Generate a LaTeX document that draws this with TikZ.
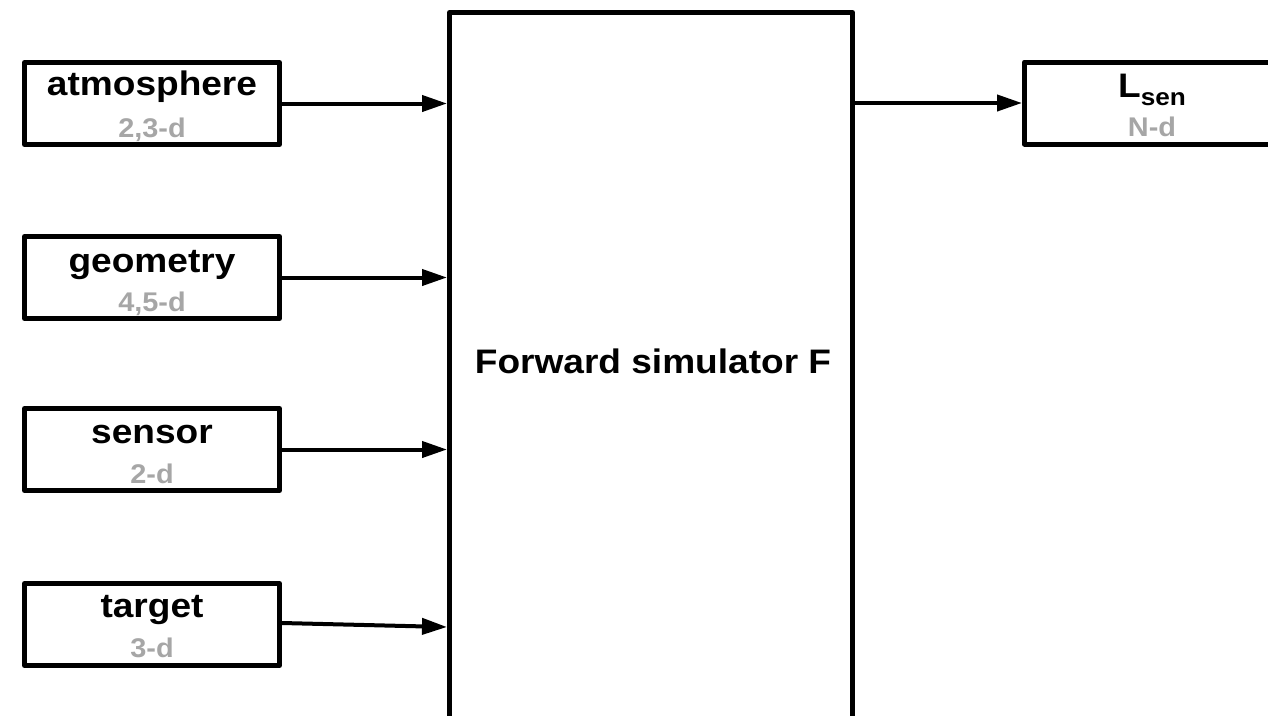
\documentclass[tikz,border=0pt]{standalone}
\usepackage{fontspec}
\setmainfont{Liberation Sans}
\usepackage{graphicx}
\usetikzlibrary{arrows.meta}
\definecolor{dimgraytext}{RGB}{166,166,166}
\newcommand{\bktext}[1]{{\fontsize{34}{34}\selectfont\bfseries\scalebox{1.09}[1]{#1}}}
\newcommand{\grtext}[1]{{\fontsize{27}{27}\selectfont\bfseries\color{dimgraytext}\scalebox{1.07}[1]{#1}}}
\begin{document}
\begin{tikzpicture}[x=1pt,y=1pt,
  inbox/.style={draw=black, line width=5pt, line join=round, rectangle, minimum width=255pt, minimum height=82pt, inner sep=0pt, fill=white},
  bigbox/.style={draw=black, line width=5pt, line join=round, rectangle, minimum width=403pt, minimum height=728pt, inner sep=0pt},
  flow/.style={line width=4pt, -{Triangle[length=25pt,width=16pt]}},
  lbl/.style={anchor=base, inner sep=0pt}
]
\useasboundingbox (0,0) rectangle (1268,-715);
\clip (0,0) rectangle (1268,-715);
\fill[white] (0,0) rectangle (1268,-715);

% central block
\node[bigbox] (fwd) at (651,-376.5) {};
\node[inner sep=0pt] (fwdT) at (653,-361) {\bktext{Forward simulator F}};

% input boxes
\node[inbox] (atm) at (152,-103.5) {};
\node[lbl] (atmT) at ([yshift=8.5pt]atm.center) {\bktext{atmosphere}};
\node[lbl] (atmD) at ([yshift=-33.5pt]atm.center) {\grtext{2,3-d}};

\node[inbox] (geo) at (152,-277.5) {};
\node[lbl] (geoT) at ([yshift=5pt]geo.center) {\bktext{geometry}};
\node[lbl] (geoD) at ([yshift=-33.5pt]geo.center) {\grtext{4,5-d}};

\node[inbox] (sen) at (152,-449.5) {};
\node[lbl] (senT) at ([yshift=6.5pt]sen.center) {\bktext{sensor}};
\node[lbl] (senD) at ([yshift=-33.5pt]sen.center) {\grtext{2-d}};

\node[inbox] (tgt) at (152,-624.5) {};
\node[lbl] (tgtT) at ([yshift=7.5pt]tgt.center) {\bktext{target}};
\node[lbl] (tgtD) at ([yshift=-32.5pt]tgt.center) {\grtext{3-d}};

% output box
\node[inbox] (out) at (1152,-103) {};
\node[lbl] (outT) at ([yshift=6pt]out.center) {\bktext{L\raisebox{-8pt}{\fontsize{24}{24}\selectfont sen}}};
\node[lbl] (outD) at ([yshift=-33pt]out.center) {\grtext{N-d}};

% connectors
\draw[flow] (atm.east) -- (atm.east -| fwd.west);
\draw[flow] (geo.east) -- (geo.east -| fwd.west);
\draw[flow] (sen.east) -- (sen.east -| fwd.west);
\draw[flow] ([yshift=1.5pt]tgt.east) -- ([yshift=-2.5pt]tgt.east -| fwd.west);
\draw[flow] (out.west -| fwd.east) -- (out.west);
\end{tikzpicture}
\end{document}
